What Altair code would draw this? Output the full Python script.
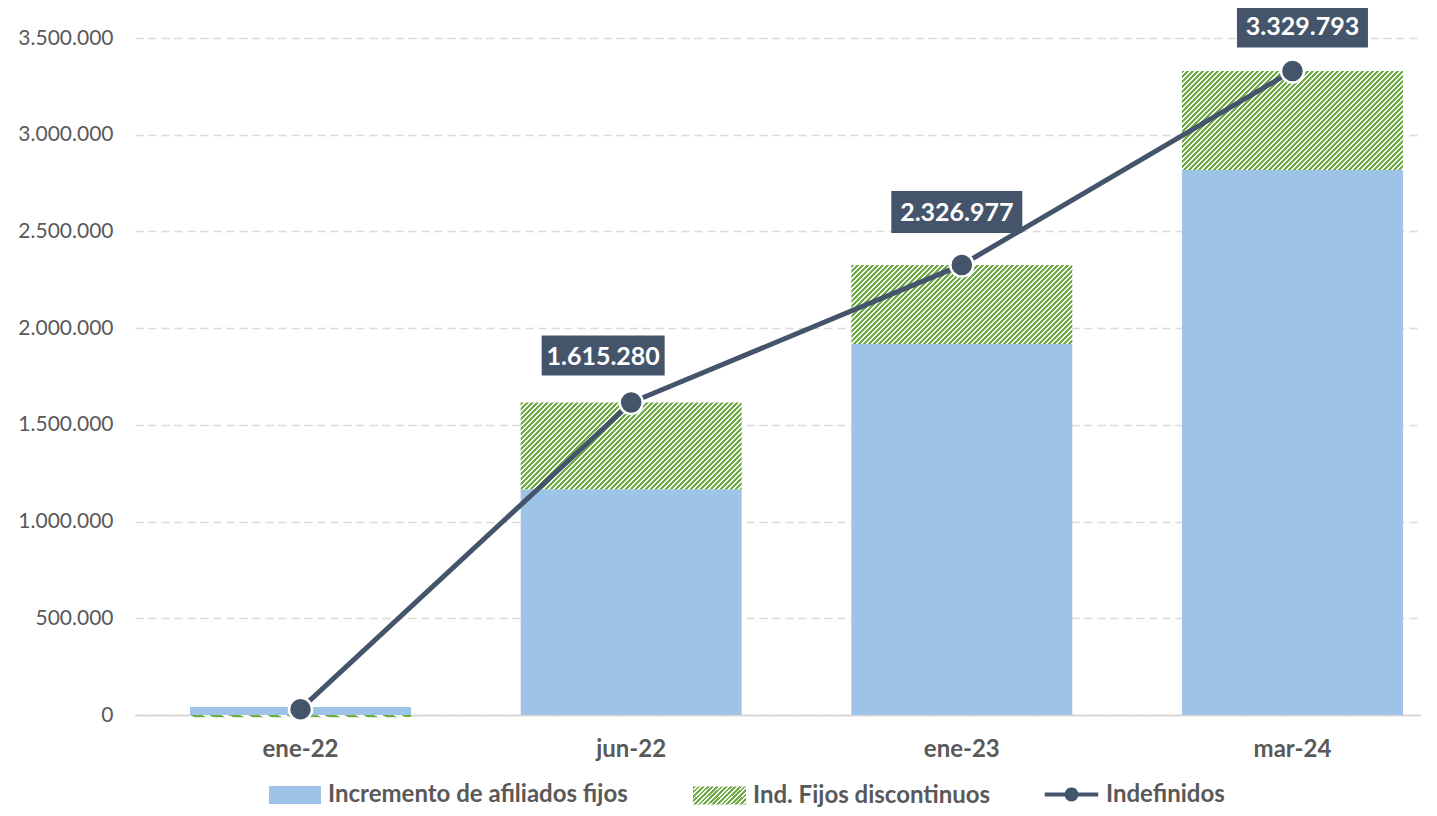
import math
import altair as alt
import pandas as pd

# ---------------- data ----------------
categories = ["ene-22", "jun-22", "ene-23", "mar-24"]
fijos = [41000, 1167000, 1918000, 2818000]
discontinuos = [-11000, 448280, 408977, 511793]
indefinidos = [30000, 1615280, 2326977, 3329793]
series_names = ["Incremento de afiliados fijos", "Ind. Fijos discontinuos", "Indefinidos"]
y_ticks = [0, 500000, 1000000, 1500000, 2000000, 2500000, 3000000, 3500000]
labelled = ["jun-22", "ene-23", "mar-24"]

# ---------------- style ----------------
BLUE = "#9DC3E6"
GREEN = "#70AD47"
DARK = "#44546A"
GREY = "#595959"
GRID = "#D9D9D9"
FONT = "Lato"
PLOT_W, PLOT_H = 1286, 677
Y_MAX = 3500000
BAND_W = 221

label_offsets = {"jun-22": (-28, -47), "ene-23": (-5, -53), "mar-24": (10, -45)}
label_boxes = {"jun-22": (123, 40), "ene-23": (131, 42), "mar-24": (131, 43)}

df = pd.DataFrame({"cat": categories, "fijos": fijos, "disc": discontinuos, "total": indefinidos})
df["inc"] = series_names[0]
df["disc_name"] = series_names[1]
df["ind"] = series_names[2]
df["d0"] = [f if d >= 0 else 0 for f, d in zip(fijos, discontinuos)]
df["d1"] = df["d0"] + df["disc"]
df["lbl"] = [f"{v:,}".replace(",", ".") for v in indefinidos]


def hatch(w, h, period=5.0, frac=0.6):
    """Diagonal green/white stripes (45deg, fixed pixel period) as a linear gradient."""
    r = h / w
    n = max(1, math.ceil((w + h) / period))
    k = (1 + r) / (1 + r * r) * (n * period) / (w + h)
    stops = []
    for i in range(n):
        a = i / n
        b = (i + frac) / n
        c = (i + 1) / n
        stops += [
            {"offset": round(a, 5), "color": GREEN},
            {"offset": round(b, 5), "color": GREEN},
            {"offset": round(b, 5), "color": "#FFFFFF"},
            {"offset": round(c, 5), "color": "#FFFFFF"},
        ]
    return {"gradient": "linear", "x1": 0, "y1": 0, "x2": k, "y2": k * r, "stops": stops}


def rect_path(w, h):
    q = round(h / w, 4)
    return f"M-1,-{q}H1V{q}H-1Z"


# single outline: horizontal bar with a dot in the middle
line_dot_path = (
    "M-1,-0.1H-0.2615A0.28,0.28 0 0,1 0.2615,-0.1H1V0.1H0.2615"
    "A0.28,0.28 0 0,1 -0.2615,0.1H-1Z"
)

x_scale = alt.Scale(domain=categories, paddingInner=0.3317, paddingOuter=0.1105, align=0.753)
x_axis = alt.Axis(
    title=None, labelAngle=0, labelFont=FONT, labelFontSize=24, labelFontWeight="bold",
    labelColor=GREY, labelPadding=22, ticks=False, tickSize=0, domainColor=GRID,
    domainWidth=2, grid=False,
)
y_scale = alt.Scale(domain=[0, Y_MAX], nice=False)
y_axis = alt.Axis(
    title=None, values=y_ticks,
    labelExpr="replace(format(datum.value, ','), regexp(',', 'g'), '.')",
    labelFont=FONT, labelFontSize=21, labelColor=GREY, labelPadding=22,
    ticks=False, tickSize=0, domain=False, grid=True, gridColor=GRID,
    gridDash=[8, 5], gridWidth=1.5,
)

X = alt.X("cat:N", scale=x_scale, axis=x_axis, sort=categories)
legend_common = dict(
    title=None, orient="none", padding=0, labelFont=FONT, labelFontSize=24,
    labelFontWeight="bold", labelColor=GREY, labelOffset=6, labelLimit=600,
)
LEG_Y = 730

base = alt.Chart(df)

blue = base.mark_bar().encode(
    x=X,
    y=alt.Y("fijos:Q", scale=y_scale, axis=y_axis),
    color=alt.Color(
        "inc:N",
        scale=alt.Scale(domain=[series_names[0]], range=[BLUE]),
        legend=alt.Legend(legendX=133, legendY=LEG_Y, symbolType=rect_path(52, 18),
                          symbolSize=52 * 52, **legend_common),
    ),
)

hatched = []
for c, d in zip(categories, discontinuos):
    h = abs(d) / Y_MAX * PLOT_H
    sub = base.transform_filter(alt.datum.cat == c)
    if c == categories[0]:
        layer = sub.mark_bar(fill=hatch(53, 18.5, period=4.6)).encode(
            x=X,
            y=alt.Y("d0:Q", scale=y_scale, axis=y_axis),
            y2="d1:Q",
            opacity=alt.Opacity(
                "disc_name:N",
                scale=alt.Scale(type="point", domain=[series_names[1]], range=[1, 1]),
                legend=alt.Legend(legendX=557, legendY=LEG_Y, symbolType=rect_path(53, 18),
                                  symbolSize=53 * 53, **legend_common),
            ),
        )
    else:
        layer = sub.mark_bar(fill=hatch(BAND_W, h)).encode(
            x=X,
            y=alt.Y("d0:Q", scale=y_scale, axis=y_axis),
            y2="d1:Q",
        )
    hatched.append(layer)

line = base.mark_line(color=DARK, strokeWidth=5).encode(
    x=X, y=alt.Y("total:Q", scale=y_scale, axis=y_axis)
)

points = base.mark_point(filled=True, size=530, stroke="white", strokeWidth=2.5, opacity=1).encode(
    x=X,
    y=alt.Y("total:Q", scale=y_scale, axis=y_axis),
    color=alt.Color(
        "ind:N",
        scale=alt.Scale(domain=[series_names[2]], range=[DARK]),
        legend=alt.Legend(legendX=908, legendY=LEG_Y - 2, symbolType=line_dot_path,
                          symbolSize=55 * 55, **legend_common),
    ),
)

labels = []
for c in labelled:
    dx, dy = label_offsets[c]
    bw, bh = label_boxes[c]
    sub = base.transform_filter(alt.datum.cat == c)
    box = sub.mark_point(
        shape=rect_path(bw, bh), size=bw * bw, filled=True, color=DARK, opacity=1,
        strokeWidth=0, xOffset=dx, yOffset=dy,
    ).encode(x=X, y=alt.Y("total:Q", scale=y_scale, axis=y_axis))
    txt = sub.mark_text(
        font=FONT, fontSize=25, fontWeight="bold", color="white", align="center",
        baseline="middle", dx=dx, dy=dy + 1,
    ).encode(x=X, y=alt.Y("total:Q", scale=y_scale, axis=y_axis), text="lbl:N")
    labels += [box, txt]

chart = (
    alt.layer(blue, *hatched, line, points, *labels)
    .resolve_scale(color="independent", opacity="independent")
    .properties(
        width=PLOT_W,
        height=PLOT_H,
        autosize=alt.AutoSizeParams(type="none"),
        padding={"left": 127, "top": 30, "right": 0, "bottom": 92},
    )
    .configure_view(strokeWidth=0)
)

chart.save("out.html", embed_options={"renderer": "svg", "actions": False})
